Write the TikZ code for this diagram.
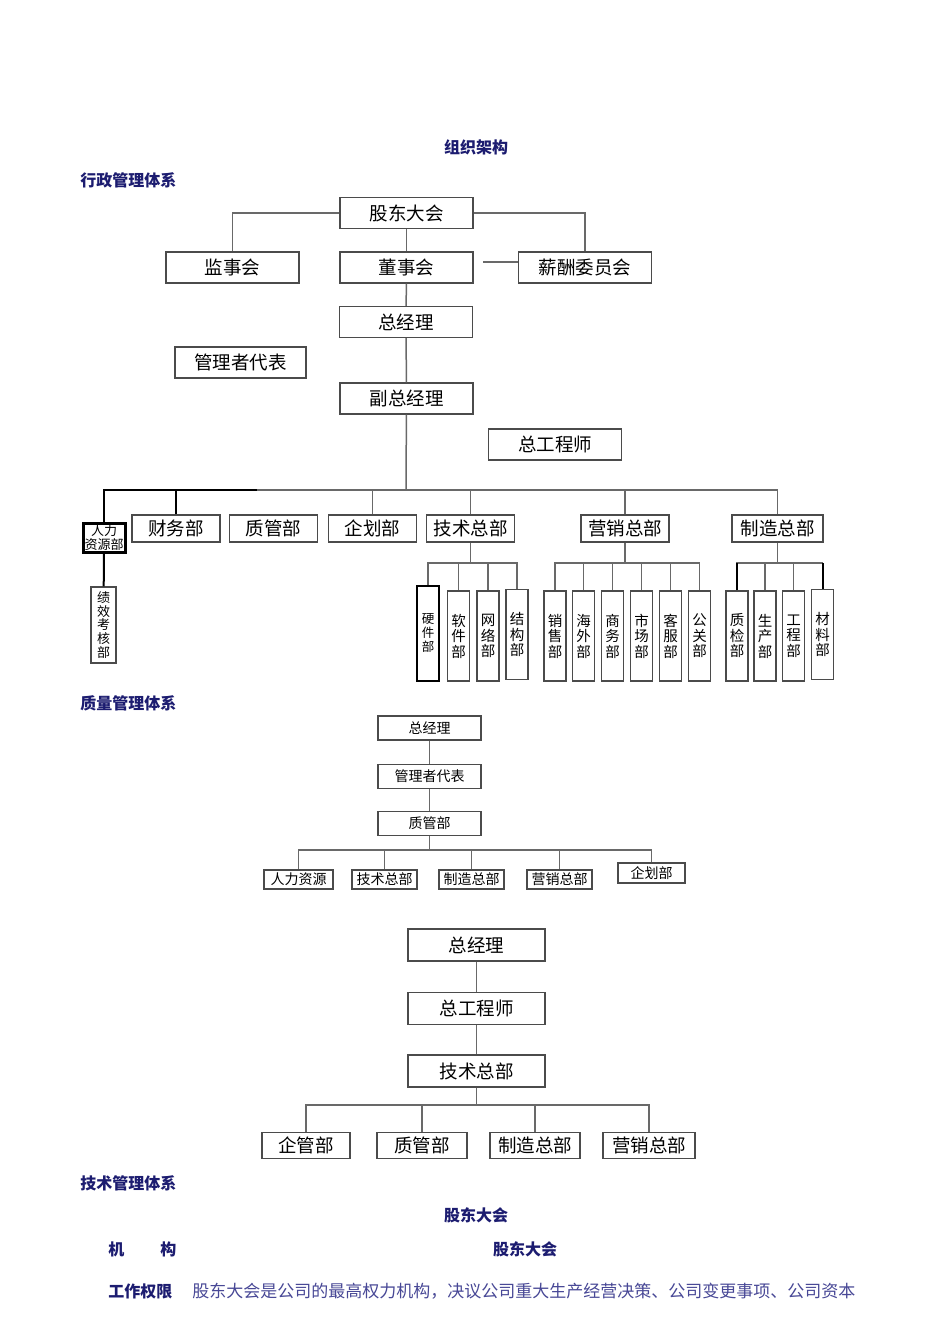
\documentclass[tikz,border=0pt]{standalone}
\usepackage{fontspec}
\setmainfont{Noto Sans CJK SC}
\usetikzlibrary{positioning}

\definecolor{navy}{RGB}{28,28,112}
\definecolor{parablue}{RGB}{72,72,150}
\definecolor{linegray}{RGB}{105,105,105}
\definecolor{boxline}{RGB}{75,75,75}

\tikzset{
    orgbox/.style={draw=boxline, line width=0.7pt, fill=white, inner sep=0pt,
        minimum height=15.5pt, font=\fontsize{9.25}{10}\selectfont},
    bigbox/.style={orgbox, minimum width=66.5pt},
    deptbox/.style={orgbox, minimum width=44pt, minimum height=13.5pt},
    vbox/.style={orgbox, minimum width=11pt, minimum height=45pt, align=center,
        font=\fontsize{7.25}{7.75}\selectfont},
    qbox/.style={orgbox, minimum width=51.5pt, minimum height=12pt,
        font=\fontsize{7}{8}\selectfont},
    qdept/.style={orgbox, minimum width=32.5pt, minimum height=9.5pt,
        font=\fontsize{7}{8}\selectfont},
    tbox/.style={orgbox, minimum width=68.5pt, minimum height=16pt},
    tdept/.style={orgbox, minimum width=45pt, minimum height=13pt},
    link/.style={draw=linegray, line width=0.75pt},
    thinlink/.style={draw=linegray, line width=0.6pt},
    heavy/.style={draw=black, line width=1.3pt},
    heading/.style={font=\fontsize{8}{9}\selectfont\bfseries, text=navy, inner sep=0pt},
}

\begin{document}
\begin{tikzpicture}[x=0.5pt, y=-0.5pt]
    % page
    \fill[white] (0,0) rectangle (950,1344);
    \useasboundingbox (0,0) rectangle (950,1344);
    % headings
    \node[heading] (title) at (476,147) {组织架构};
    \node[heading, anchor=west] (sec1) at (80,180) {行政管理体系};
    \node[heading, anchor=west] (sec2) at (80,703) {质量管理体系};
    \node[heading, anchor=west] (sec3) at (80,1183) {技术管理体系};

    % administration: top levels
    \node[bigbox] (gd) at (406.5,213) {股东大会};
    \node[bigbox] (jsh) at (232.5,267.5) {监事会};
    \node[bigbox] (dsh) at (406.5,267.5) {董事会};
    \node[bigbox] (xc) at (585,267.5) {薪酬委员会};
    \node[bigbox] (zjl) at (406,322) {总经理};
    \node[bigbox, minimum width=65.5pt] (gld) at (240.5,362.5) {管理者代表};
    \node[bigbox] (fz) at (406.5,398.5) {副总经理};
    \node[bigbox] (zgc) at (555,444.5) {总工程师};
    \draw[link] (gd.west) -| (jsh.north);
    \draw[link] (gd.east) -| (xc.north);
    \draw[link] (gd) -- (dsh);
    \draw[link] (dsh) -- (zjl);
    \draw[link] (zjl) -- (fz);
    \coordinate (xcstub) at (483,262);
    \draw[link] (xcstub) -- (xcstub -| xc.west);

    % administration: departments
    \node[orgbox, draw=black, line width=1.5pt, minimum width=21pt, minimum height=14.5pt,
        align=center, font=\fontsize{6.5}{6.6}\selectfont] (hr) at (104,537.5) {人力\\资源部};
    \node[vbox, minimum width=12.5pt, minimum height=38pt,
        font=\fontsize{6.5}{6.9}\selectfont] (jx) at (103.5,625) {绩\\效\\考\\核\\部};
    \node[deptbox] (cw) at (176,528.5) {财务部};
    \node[deptbox] (zg) at (273.5,528.5) {质管部};
    \node[deptbox] (qh) at (372.5,528.5) {企划部};
    \node[deptbox] (js) at (470.5,528.5) {技术总部};
    \node[deptbox] (yx) at (625,528.5) {营销总部};
    \node[deptbox, minimum width=45.5pt] (zz) at (777.5,528.5) {制造总部};
    \coordinate (bus) at (406,490);
    \coordinate (busl) at (257,490);
    \draw[link] (fz) -- (bus);
    \draw[link] (busl) -| (zz.north);
    \draw[heavy] (hr.north) |- (busl);
    \draw[heavy] (cw.north) -- (cw.north |- busl);
    \draw[heavy, line width=1pt] (hr) -- (jx);
    \foreach \d in {qh,js,yx}
        \draw[link] (\d.north) -- (\d.north |- bus);

    % technology sub-departments
    \node[vbox, draw=black, line width=1.4pt, minimum height=47.5pt,
        font=\fontsize{6.25}{7}\selectfont] (hard) at (428,633.5) {硬\\件\\部};
    \node[vbox] (soft) at (458.5,636) {软\\件\\部};
    \node[vbox] (net) at (488,636) {网\\络\\部};
    \node[vbox] (struct) at (517,634.5) {结\\构\\部};
    \coordinate (jsbus) at (470.5,563);
    \draw[link] (js) -- (jsbus);
    \foreach \d in {hard,soft,net,struct}
        \draw[link] (jsbus) -| (\d.north);

    % sales sub-departments
    \node[vbox] (sales) at (555,636) {销\\售\\部};
    \node[vbox] (abroad) at (583.5,636) {海\\外\\部};
    \node[vbox] (biz) at (612.5,636) {商\\务\\部};
    \node[vbox] (market) at (641.5,636) {市\\场\\部};
    \node[vbox] (service) at (670.5,636) {客\\服\\部};
    \node[vbox] (pr) at (699.5,636) {公\\关\\部};
    \coordinate (yxbus) at (625,563);
    \draw[link] (yx) -- (yxbus);
    \foreach \d in {sales,abroad,biz,market,service,pr}
        \draw[link] (yxbus) -| (\d.north);

    % manufacturing sub-departments
    \node[vbox] (qc) at (737,636) {质\\检\\部};
    \node[vbox] (prod) at (765,636) {生\\产\\部};
    \node[vbox] (eng) at (793.5,636) {工\\程\\部};
    \node[vbox] (mat) at (822.5,634.5) {材\\料\\部};
    \coordinate (zzbus) at (777.5,563);
    \draw[link] (zz) -- (zzbus);
    \foreach \d in {qc,prod,eng,mat}
        \draw[link] (zzbus) -| (\d.north);
    \draw[heavy, line width=1pt] (qc.north) -- (qc.north |- zzbus);
    \draw[heavy, line width=1pt] (mat.north) -- (mat.north |- zzbus);

    % quality system
    \node[qbox] (qzjl) at (429.5,728) {总经理};
    \node[qbox] (qgld) at (429.5,776.5) {管理者代表};
    \node[qbox] (qzg) at (429.5,823.5) {质管部};
    \node[qdept, minimum width=34.5pt] (qhr) at (298.5,879.5) {人力资源};
    \node[qdept] (qjs) at (384.5,879.5) {技术总部};
    \node[qdept] (qzz) at (471.5,879.5) {制造总部};
    \node[qdept] (qyx) at (559.5,879.5) {营销总部};
    \node[qdept, minimum width=33.5pt, minimum height=10pt] (qqh) at (651.5,873) {企划部};
    \coordinate (qbus) at (429.5,850);
    \draw[thinlink] (qzjl) -- (qgld);
    \draw[thinlink] (qgld) -- (qzg);
    \draw[thinlink] (qzg) -- (qbus);
    \foreach \d in {qhr,qjs,qzz,qyx,qqh}
        \draw[thinlink] (qbus) -| (\d.north);

    % technology system
    \node[tbox] (tzjl) at (476.5,945) {总经理};
    \node[tbox] (tzgc) at (476.5,1008.5) {总工程师};
    \node[tbox] (tjs) at (476.5,1071) {技术总部};
    \node[tdept, minimum width=44pt] (tqg) at (306,1145.5) {企管部};
    \node[tdept] (tzg) at (422,1145.5) {质管部};
    \node[tdept] (tzz) at (535,1145.5) {制造总部};
    \node[tdept, minimum width=46pt] (tyx) at (649,1145.5) {营销总部};
    \coordinate (tbus) at (476.5,1105);
    \draw[link] (tzjl) -- (tzgc);
    \draw[link] (tzgc) -- (tjs);
    \draw[link] (tjs) -- (tbus);
    \foreach \d in {tqg,tzg,tzz,tyx}
        \draw[link] (tbus) -| (\d.north);

    % text below
    \node[heading] (gdtitle) at (476,1215) {股东大会};
    \node[heading, anchor=west] (jglabel) at (108,1249) {机\hspace{18pt}构};
    \node[heading] (jgvalue) at (525,1249) {股东大会};
    \node[heading, anchor=west] (qxlabel) at (108,1291) {工作权限};
    \node[anchor=west, inner sep=0pt, text=parablue, font=\fontsize{8.5}{10}\selectfont] (qxtext) at (192,1291)
        {股东大会是公司的最高权力机构，决议公司重大生产经营决策、公司变更事项、公司资本};
\end{tikzpicture}
\end{document}
